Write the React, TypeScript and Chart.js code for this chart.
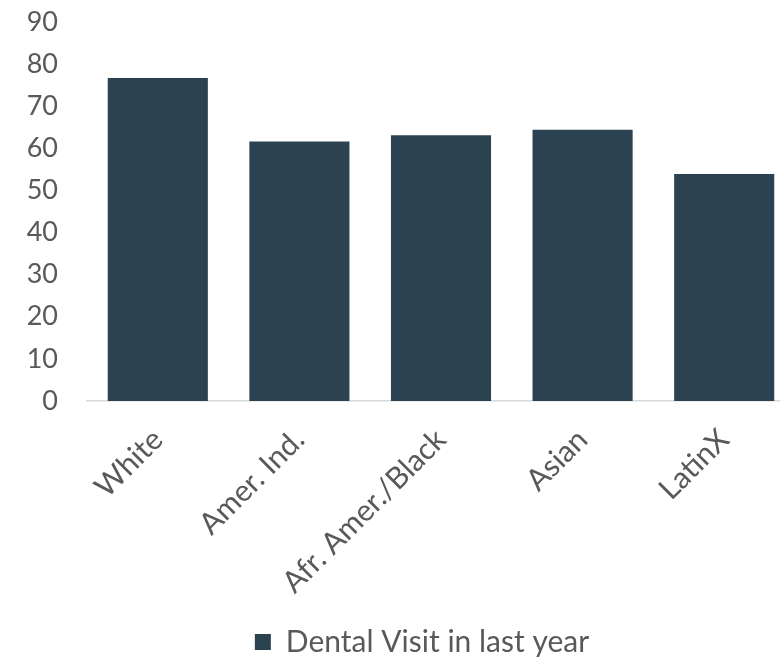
import React, { useEffect, useRef } from "react";
import { Chart, registerables } from "chart.js";

Chart.register(...registerables);

const categories = ["White", "Amer. Ind.", "Afr. Amer./Black", "Asian", "LatinX"];
const seriesName = "Dental Visit in last year";
const dentalVisit = [76.7, 61.6, 63.1, 64.4, 53.9];
const yMin = 0;
const yMax = 90;
const yStep = 10;

const BAR = "#2B4350";
const TEXT = "#595959";
const FONT = "Lato, 'Open Sans', sans-serif";
const BOTTOM_PAD = -8;
const AREA_BOTTOM = 401;

export default function App() {
  const ref = useRef<HTMLCanvasElement | null>(null);
  useEffect(() => {
    if (!ref.current) return;
    const chart = new Chart(ref.current, {
      type: "bar",
      data: {
        labels: categories,
        datasets: [
          {
            label: seriesName,
            data: dentalVisit,
            backgroundColor: BAR,
            borderWidth: 0,
            barPercentage: 1,
            categoryPercentage: 0.707,
          },
        ],
      },
      options: {
        responsive: false,
        animation: false,
        layout: { padding: { top: 22, left: 0, right: 0, bottom: BOTTOM_PAD } },
        plugins: {
          tooltip: { enabled: false },
          legend: {
            position: "bottom",
            labels: {
              color: TEXT,
              font: { family: FONT, size: 30 },
              boxWidth: 16,
              boxHeight: 16,
              padding: 2,
            },
          },
        },
        scales: {
          x: {
            grid: { display: false, drawTicks: false },
            border: { display: true, color: "#D9D9D9", width: 1.5 },
            ticks: {
              color: TEXT,
              font: { family: FONT, size: 30 },
              minRotation: 45,
              maxRotation: 45,
              padding: 21,
              labelOffset: 0,
            },
            afterFit: (s: any) => {
              const lh = s.chart.legend ? s.chart.legend.height : 60;
              s.height = s.chart.height - BOTTOM_PAD - lh - AREA_BOTTOM;
              s.paddingLeft = 0;
              s.paddingRight = 0;
            },
          },
          y: {
            min: yMin,
            max: yMax,
            grid: { display: false, drawTicks: false },
            border: { display: false },
            ticks: {
              stepSize: yStep,
              color: TEXT,
              font: { family: FONT, size: 27 },
              padding: 29,
            },
            afterFit: (s: any) => {
              s.width = 87;
              s.paddingTop = 0;
              s.paddingBottom = 0;
            },
          },
          yRight: {
            position: "right",
            min: yMin,
            max: yMax,
            grid: { display: false, drawTicks: false },
            border: { display: false },
            ticks: { display: false },
            afterFit: (s: any) => {
              s.width = 49;
              s.paddingTop = 0;
              s.paddingBottom = 0;
            },
          },
        },
      },
    });
    return () => chart.destroy();
  }, []);
  return (
    <div style={{ position: "absolute", left: 0, top: 0, width: 780, height: 659, overflow: "hidden", background: "#fff" }}>
      <canvas ref={ref} width={844} height={659} style={{ display: "block" }} />
    </div>
  );
}
